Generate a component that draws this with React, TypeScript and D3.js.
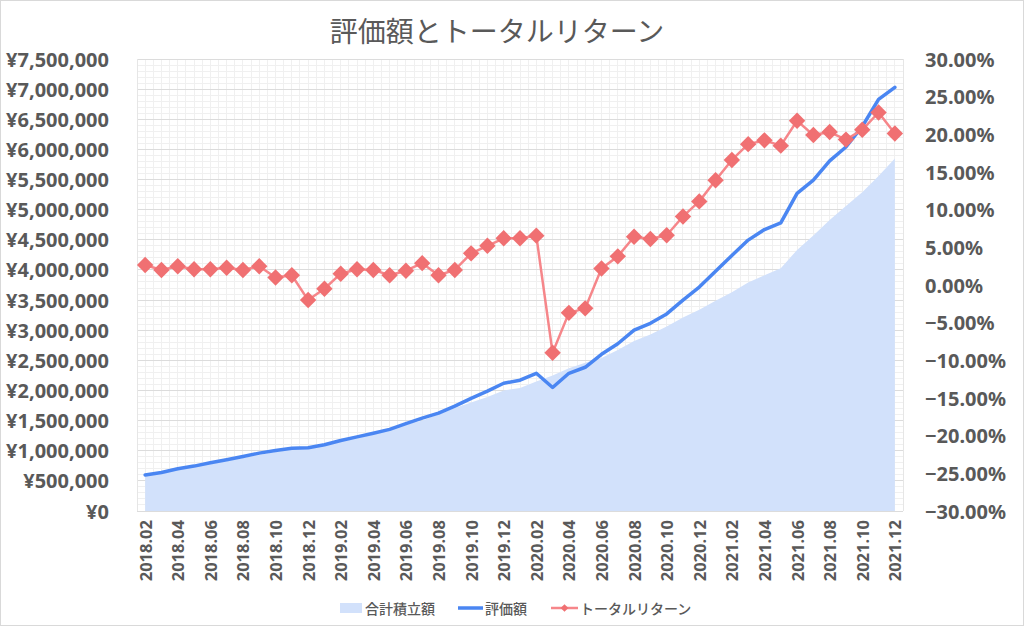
import React from "react";
import * as d3 from "d3";

const months = [
  "2018.02","2018.03","2018.04","2018.05","2018.06","2018.07","2018.08","2018.09","2018.10","2018.11","2018.12",
  "2019.01","2019.02","2019.03","2019.04","2019.05","2019.06","2019.07","2019.08","2019.09","2019.10","2019.11","2019.12",
  "2020.01","2020.02","2020.03","2020.04","2020.05","2020.06","2020.07","2020.08","2020.09","2020.10","2020.11","2020.12",
  "2021.01","2021.02","2021.03","2021.04","2021.05","2021.06","2021.07","2021.08","2021.09","2021.10","2021.11","2021.12",
];

// 合計積立額 (yen)
const contributions = [
  580000, 630000, 680000, 730000, 780000, 830000, 880000, 930000, 980000, 1020000, 1070000,
  1110000, 1160000, 1210000, 1270000, 1340000, 1430000, 1500000, 1600000, 1710000, 1800000, 1890000, 2000000,
  2040000, 2150000, 2250000, 2370000, 2460000, 2540000, 2670000, 2820000, 2930000, 3060000, 3210000, 3340000,
  3490000, 3630000, 3790000, 3910000, 4030000, 4330000, 4570000, 4830000, 5060000, 5290000, 5560000, 5850000,
];

// 評価額 (yen)
const valuation = [
  597000, 640000, 700000, 745000, 800000, 850000, 905000, 960000, 1005000, 1040000, 1050000,
  1100000, 1170000, 1230000, 1290000, 1355000, 1450000, 1540000, 1625000, 1740000, 1870000, 1990000, 2120000,
  2170000, 2285000, 2050000, 2285000, 2385000, 2600000, 2775000, 3000000, 3115000, 3270000, 3500000, 3715000,
  3980000, 4240000, 4495000, 4670000, 4780000, 5270000, 5490000, 5810000, 6040000, 6380000, 6830000, 7030000,
];

// トータルリターン (ratio)
const totalReturn = [
  0.0265, 0.020, 0.025, 0.021, 0.021, 0.023, 0.020, 0.025, 0.010, 0.013, -0.020,
  -0.005, 0.015, 0.021, 0.020, 0.013, 0.019, 0.029, 0.013, 0.020, 0.042, 0.052, 0.062,
  0.062, 0.0655, -0.090, -0.037, -0.031, 0.022, 0.038, 0.064, 0.061, 0.066, 0.091, 0.111,
  0.139, 0.166, 0.187, 0.192, 0.185, 0.218, 0.199, 0.203, 0.193, 0.206, 0.229, 0.201,
];

const leftTicks = d3.range(0, 7500001, 500000);
const rightTicks = d3.range(-30, 30.001, 5).map((v) => v / 100);

const TITLE = "評価額とトータルリターン";
const LEGEND = ["合計積立額", "評価額", "トータルリターン"];

const W = 1024;
const H = 626;
const plot = { left: 137, right: 903, top: 59, bottom: 511 };

const C_AREA = "#d2e1fb";
const C_BLUE = "#4a86f2";
const C_RED_LINE = "#f6868a";
const C_RED = "#f07072";
const C_TEXT = "#595959";

export default function App() {
  const x = d3.scaleBand<string>().domain(months).range([plot.left, plot.right]);
  const bw = x.bandwidth();
  const cx = (m: string) => (x(m) as number) + bw / 2;
  const yL = d3.scaleLinear().domain([0, 7500000]).range([plot.bottom, plot.top]);
  const yR = d3.scaleLinear().domain([-0.3, 0.3]).range([plot.bottom, plot.top]);

  const area = d3
    .area<number>()
    .x((_, i) => cx(months[i]))
    .y0(yL(0))
    .y1((d) => yL(d));
  const lineL = d3
    .line<number>()
    .x((_, i) => cx(months[i]))
    .y((d) => yL(d));
  const lineR = d3
    .line<number>()
    .x((_, i) => cx(months[i]))
    .y((d) => yR(d));
  const diamond = d3.symbol().type(d3.symbolSquare).size(135)() as string;
  const smallDiamond = d3.symbol().type(d3.symbolSquare).size(30)() as string;

  const minorH = d3.range(0, 7500001, 100000).filter((v) => v % 500000 !== 0);
  const vLines = d3.range(0, months.length * 2 + 1).map((k) => plot.left + (k * bw) / 2);

  const numFont = "'Noto Sans', 'DejaVu Sans', sans-serif";
  const cjkFont = "'Noto Sans CJK JP', 'Noto Sans', sans-serif";
  const yen = (v: number) => "¥" + d3.format(",")(v);
  const pct = (v: number) => d3.format(".2f")(v * 100) + "%";

  return (
    <svg
      width={W}
      height={H}
      style={{ position: "absolute", left: 0, top: 0, background: "#fff" }}
    >
      <rect x={0.5} y={0.5} width={W - 1} height={H - 1} fill="#fff" stroke="#d9d9d9" />
      <text
        x={497}
        y={42}
        textAnchor="middle"
        fontFamily={cjkFont}
        fontSize={28}
        fill={C_TEXT}
      >
        {TITLE}
      </text>

      {/* grid */}
      <g shapeRendering="crispEdges">
        {vLines.map((vx, i) => (
          <line key={"v" + i} x1={vx} x2={vx} y1={plot.top} y2={plot.bottom} stroke="#f0f0f0" />
        ))}
        {minorH.map((v) => (
          <line key={"mh" + v} x1={plot.left} x2={plot.right} y1={yL(v)} y2={yL(v)} stroke="#f0f0f0" />
        ))}
        {leftTicks.map((v) => (
          <line key={"h" + v} x1={plot.left} x2={plot.right} y1={yL(v)} y2={yL(v)} stroke="#dcdcdc" />
        ))}
        <line x1={plot.right} x2={plot.right} y1={plot.top} y2={plot.bottom} stroke="#e6e6e6" />
        <line x1={plot.left} x2={plot.left} y1={plot.top} y2={plot.bottom} stroke="#e6e6e6" />
      </g>

      {/* series */}
      <path d={area(contributions) as string} fill={C_AREA} />
      <path
        d={lineL(valuation) as string}
        fill="none"
        stroke={C_BLUE}
        strokeWidth={3.5}
        strokeLinejoin="round"
        strokeLinecap="round"
      />
      <path
        d={lineR(totalReturn) as string}
        fill="none"
        stroke={C_RED_LINE}
        strokeWidth={2.5}
        strokeLinejoin="round"
      />
      {totalReturn.map((v, i) => (
        <path
          key={"m" + i}
          d={diamond}
          transform={`translate(${cx(months[i])},${yR(v)}) rotate(45)`}
          fill={C_RED}
        />
      ))}

      {/* left axis */}
      {leftTicks.map((v) => (
        <text
          key={"lt" + v}
          x={109}
          y={yL(v)}
          textAnchor="end"
          dominantBaseline="central"
          fontFamily={numFont}
          fontWeight={700}
          fontSize={20}
          fill={C_TEXT}
        >
          {yen(v)}
        </text>
      ))}
      {/* right axis */}
      {rightTicks.map((v) => (
        <text
          key={"rt" + v}
          x={925}
          y={yR(v)}
          textAnchor="start"
          dominantBaseline="central"
          fontFamily={numFont}
          fontWeight={700}
          fontSize={20}
          fill={C_TEXT}
        >
          {pct(v)}
        </text>
      ))}
      {/* x axis labels */}
      {months.map((m, i) =>
        i % 2 === 0 ? (
          <text
            key={"xt" + m}
            transform={`translate(${cx(m)},${plot.bottom + 9}) rotate(-90)`}
            textAnchor="end"
            dominantBaseline="central"
            fontFamily={numFont}
            fontWeight={700}
            fontSize={16.5}
            fill={C_TEXT}
          >
            {m}
          </text>
        ) : null
      )}

      {/* legend */}
      <g fontFamily={cjkFont} fontSize={14} fontWeight={500} fill={C_TEXT}>
        <rect x={340} y={603} width={22} height={10} fill={C_AREA} />
        <text x={365} y={608} dominantBaseline="central">{LEGEND[0]}</text>
        <line x1={458} x2={483} y1={608} y2={608} stroke={C_BLUE} strokeWidth={3.5} />
        <text x={485} y={608} dominantBaseline="central">{LEGEND[1]}</text>
        <line x1={551} x2={578} y1={608} y2={608} stroke={C_RED_LINE} strokeWidth={2.5} />
        <path d={smallDiamond} transform="translate(564.5,608) rotate(45)" fill={C_RED} />
        <text x={580} y={608} dominantBaseline="central">{LEGEND[2]}</text>
      </g>
    </svg>
  );
}
